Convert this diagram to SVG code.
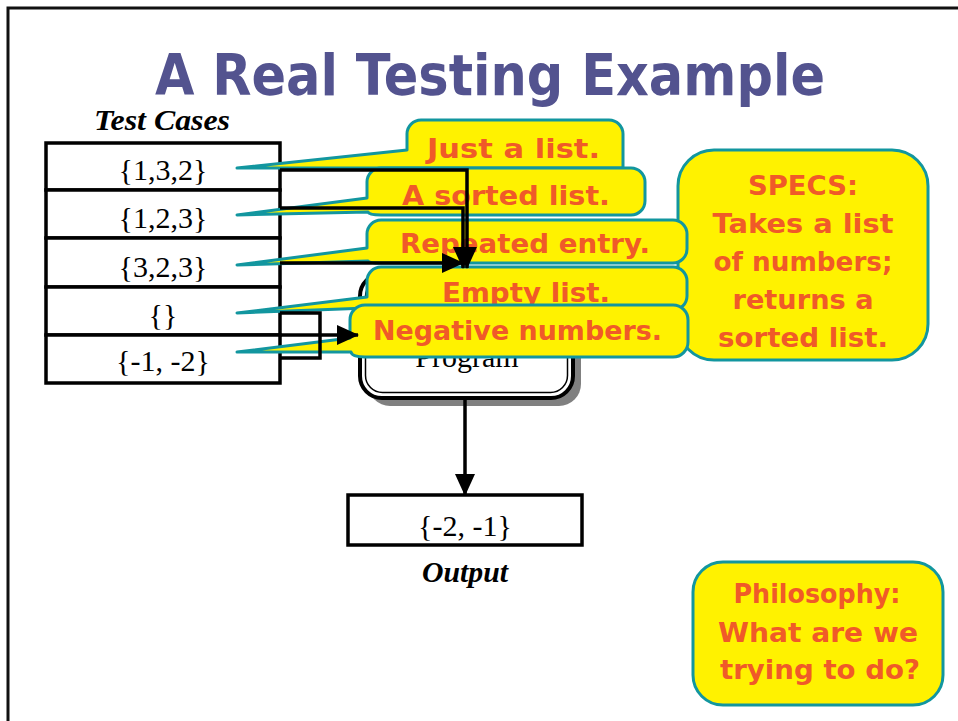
<svg xmlns="http://www.w3.org/2000/svg" width="958" height="721" viewBox="0 0 958 721">
  <defs>
    <style>
      .frame { fill: none; stroke: #111; stroke-width: 3; }
      .title { font-family: "DejaVu Sans", sans-serif; font-weight: bold; font-size: 57px; fill: #53538f; }
      .cell { fill: #fff; stroke: #000; stroke-width: 3.5; }
      .val { font-family: "Liberation Serif", serif; font-size: 30px; fill: #000; text-anchor: middle; }
      .label { font-family: "Liberation Serif", serif; font-size: 30px; font-weight: bold; font-style: italic; fill: #000; text-anchor: middle; }
      .bubble { fill: #fff200; stroke: #12969f; stroke-width: 3; stroke-linejoin: round; }
      .note { font-family: "DejaVu Sans", sans-serif; font-weight: bold; font-size: 27px; fill: #f05a28; }
      .mid { text-anchor: middle; }
      .wire { fill: none; stroke: #000; stroke-width: 3.5; }
    </style>
    <marker id="arrow" markerUnits="userSpaceOnUse" markerWidth="22" markerHeight="20" viewBox="0 0 22 20" refX="21" refY="10" orient="auto">
      <path d="M0,0 L22,10 L0,20 Z" fill="#000"/>
    </marker>
  </defs>

  <rect width="958" height="721" fill="#fff"/>
  <!-- page frame -->
  <path class="frame" d="M8,721 V8 H958"/>

  <text class="title mid" x="490" y="95" textLength="670" lengthAdjust="spacingAndGlyphs">A Real Testing Example</text>

  <!-- test case table -->
  <g id="test-cases">
    <text class="label" x="162" y="130" textLength="136" lengthAdjust="spacingAndGlyphs">Test Cases</text>
    <g id="case-1"><rect class="cell" x="46" y="143" width="234" height="47"/><text class="val" x="163" y="180">{1,3,2}</text></g>
    <g id="case-2"><rect class="cell" x="46" y="190" width="234" height="48"/><text class="val" x="163" y="228">{1,2,3}</text></g>
    <g id="case-3"><rect class="cell" x="46" y="238" width="234" height="49"/><text class="val" x="163" y="277">{3,2,3}</text></g>
    <g id="case-4"><rect class="cell" x="46" y="287" width="234" height="48"/><text class="val" x="163" y="325">{}</text></g>
    <g id="case-5"><rect class="cell" x="46" y="335" width="234" height="48"/><text class="val" x="163" y="371">{-1, -2}</text></g>
  </g>

  <!-- program box -->
  <g id="program">
    <rect x="368" y="282" width="213" height="124" rx="22" fill="#808080"/>
    <rect x="360" y="274" width="213" height="124" rx="22" fill="#fff" stroke="#000" stroke-width="4"/>
    <rect x="365.5" y="279.5" width="202" height="113" rx="17" fill="none" stroke="#000" stroke-width="1.5"/>
    <text class="val" x="467" y="367">Program</text>
  </g>

  <!-- output box -->
  <g id="output">
    <rect class="cell" x="348" y="495" width="234" height="50"/>
    <text class="val" x="465" y="536">{-2, -1}</text>
    <text class="label" x="465" y="582" textLength="86" lengthAdjust="spacingAndGlyphs">Output</text>
  </g>

  <!-- specs note -->
  <g id="specs">
    <rect class="bubble" x="678" y="150" width="250" height="210" rx="36"/>
    <text class="note mid" x="803" y="195" textLength="110" lengthAdjust="spacingAndGlyphs">SPECS:</text>
    <text class="note mid" x="803" y="233" textLength="181" lengthAdjust="spacingAndGlyphs">Takes a list</text>
    <text class="note mid" x="803" y="271" textLength="179" lengthAdjust="spacingAndGlyphs">of numbers;</text>
    <text class="note mid" x="803" y="309" textLength="141" lengthAdjust="spacingAndGlyphs">returns a</text>
    <text class="note mid" x="803" y="347" textLength="170" lengthAdjust="spacingAndGlyphs">sorted list.</text>
  </g>

  <!-- callouts, one per test case -->
  <g id="note-1">
    <path class="bubble" d="M421,120 H609 A14,14 0 0 1 623,134 V168 H409 L237,168 L407,150 V134 A14,14 0 0 1 421,120 Z"/>
    <text class="note" x="427" y="158" textLength="173" lengthAdjust="spacingAndGlyphs">Just a list.</text>
  </g>
  <g id="note-2">
    <path class="bubble" d="M381,168 H631 A14,14 0 0 1 645,182 V201 A14,14 0 0 1 631,215 H381 Q369,215 368,212 L237,215 L367,198 V182 A14,14 0 0 1 381,168 Z"/>
    <text class="note" x="402" y="205" textLength="208" lengthAdjust="spacingAndGlyphs">A sorted list.</text>
  </g>
  <g id="note-3">
    <path class="bubble" d="M381,220 H673 A14,14 0 0 1 687,234 V249 A14,14 0 0 1 673,263 H381 Q369,263 368,261 L237,265 L367,248 V234 A14,14 0 0 1 381,220 Z"/>
    <text class="note" x="400" y="253" textLength="250" lengthAdjust="spacingAndGlyphs">Repeated entry.</text>
  </g>
  <g id="note-4">
    <path class="bubble" d="M381,267 H673 A14,14 0 0 1 687,281 V296 A14,14 0 0 1 673,310 H381 Q369,310 368,308 L237,313 L367,297 V281 A14,14 0 0 1 381,267 Z"/>
    <text class="note" x="442" y="302" textLength="168" lengthAdjust="spacingAndGlyphs">Empty list.</text>
  </g>
  <g id="note-5">
    <path class="bubble" d="M365,305 H673 A15,15 0 0 1 688,320 V342 A15,15 0 0 1 673,357 H365 Q352,357 351,352 L237,352 L350,338 V320 A15,15 0 0 1 365,305 Z"/>
    <text class="note" x="373" y="340" textLength="289" lengthAdjust="spacingAndGlyphs">Negative numbers.</text>
  </g>

  <!-- philosophy note -->
  <g id="philosophy">
    <rect class="bubble" x="693" y="562" width="250" height="143" rx="30"/>
    <text class="note mid" x="817" y="603" textLength="167" lengthAdjust="spacingAndGlyphs">Philosophy:</text>
    <text class="note mid" x="818" y="642" textLength="200" lengthAdjust="spacingAndGlyphs">What are we</text>
    <text class="note mid" x="820" y="679" textLength="200" lengthAdjust="spacingAndGlyphs">trying to do?</text>
  </g>

  <!-- connectors -->
  <g id="connectors">
    <path class="wire" d="M280,170 H467 V268" marker-end="url(#arrow)"/>
    <path class="wire" d="M280,208 H463 V268" marker-end="url(#arrow)"/>
    <path class="wire" d="M280,263 H463" marker-end="url(#arrow)"/>
    <path class="wire" d="M280,313 H320 V358 H280"/>
    <path class="wire" d="M280,335 H358" marker-end="url(#arrow)"/>
    <path class="wire" d="M465,398 V495" marker-end="url(#arrow)"/>
  </g>
</svg>
